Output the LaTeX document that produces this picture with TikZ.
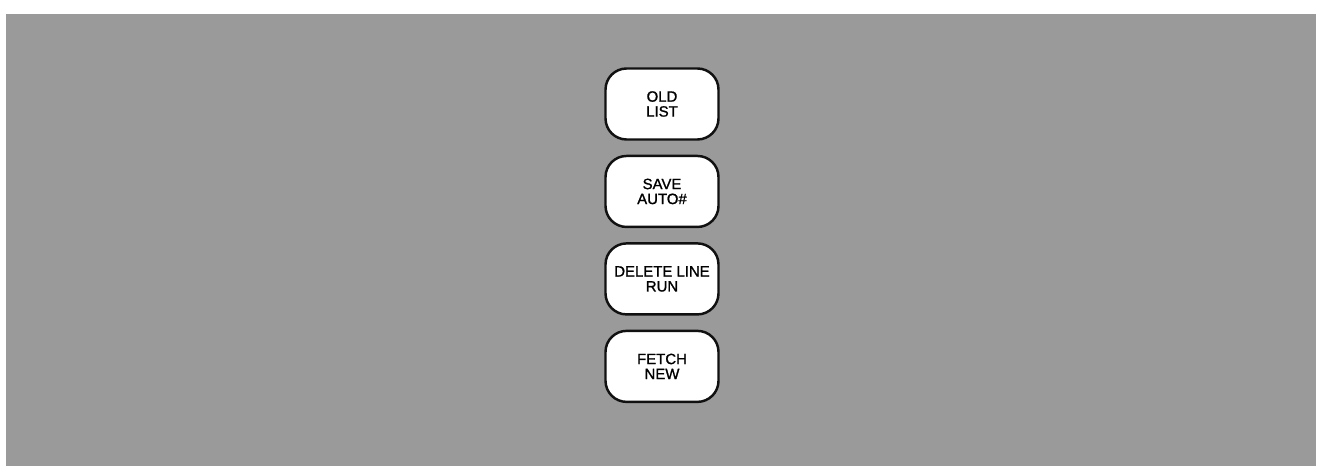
\documentclass[tikz,border=0pt]{standalone}
\usepackage{fontspec}
\setmainfont[BoldFont=Liberation Sans, BoldFeatures={FakeBold=1.2}]{Liberation Sans}
\usetikzlibrary{positioning}
\definecolor{screenFill}{HTML}{9A9A9A}
\definecolor{keyFill}{HTML}{FFFFFF}
\definecolor{keyLine}{HTML}{111111}

\begin{document}
\begin{tikzpicture}[
  font=\fontsize{8.5}{8.5}\selectfont\bfseries,
  key/.style={draw=keyLine, fill=keyFill, line width=1.4pt,
    rounded corners=12pt, minimum width=2.26cm, minimum height=1.42cm,
    align=center, inner sep=0pt},
  node distance=0.28cm
]
\useasboundingbox (0,0) rectangle (26.54,9.38);

% =========================================================
% HALFTONE PANEL
% =========================================================
\fill[screenFill] (0.12,0.06) rectangle (26.32,9.10);

% =========================================================
% KEYS
% =========================================================
\node[key] (oldKey) at (13.24,7.30) {OLD\\LIST};
\node[key, below=of oldKey] (saveKey) {SAVE\\AUTO\#};
\node[key, below=of saveKey] (deleteKey) {DELETE LINE\\RUN};
\node[key, below=of deleteKey] (fetchKey) {FETCH\\NEW};

\end{tikzpicture}
\end{document}
